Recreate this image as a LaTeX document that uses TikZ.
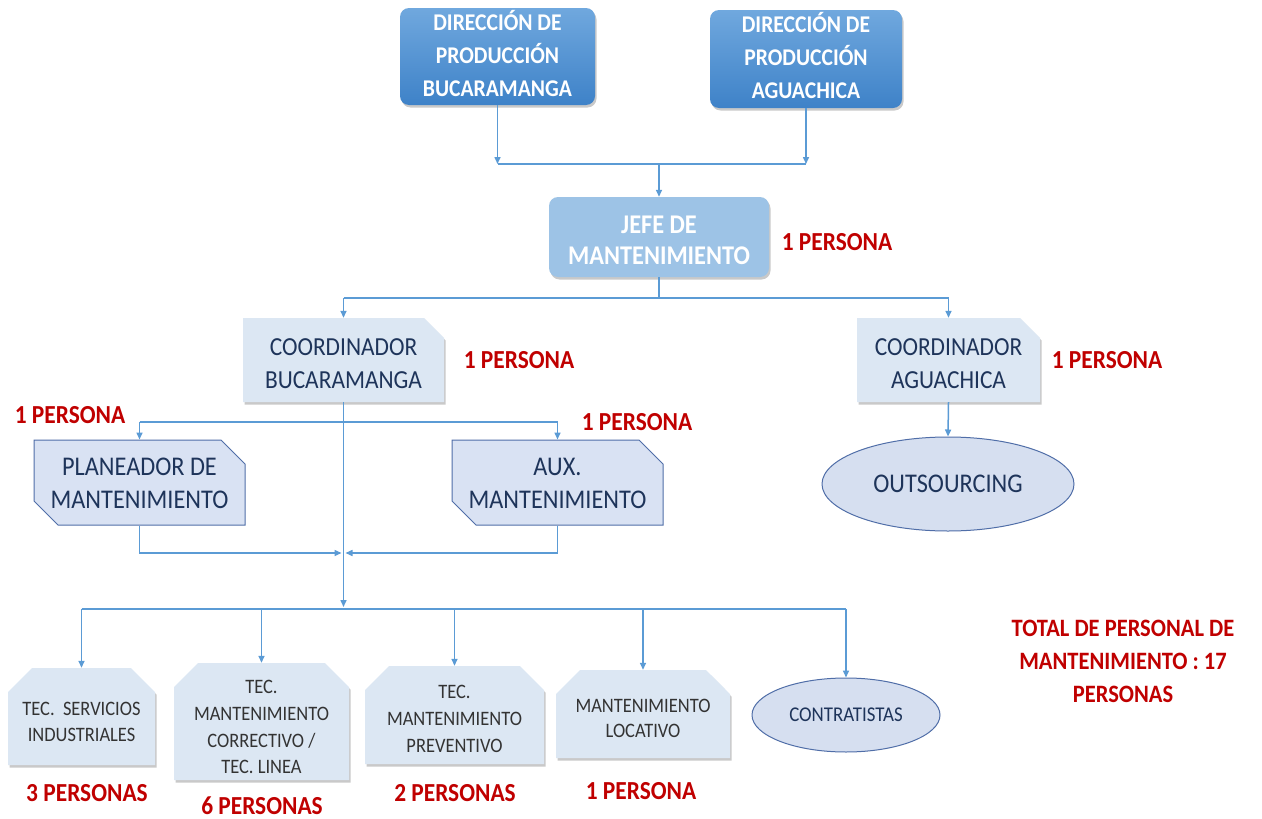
\documentclass[tikz,border=0pt]{standalone}
\usepackage{fontspec}
\setmainfont{Carlito}[FakeStretch=0.9]
\usetikzlibrary{arrows.meta,shapes.misc,shapes.geometric,shadows,calc}

\definecolor{linec}{RGB}{91,155,213}
\definecolor{dirtop}{RGB}{112,168,222}
\definecolor{dirbot}{RGB}{62,130,200}
\definecolor{jefefill}{RGB}{157,195,230}
\definecolor{boxfill}{RGB}{220,231,243}
\definecolor{planfill}{RGB}{217,226,243}
\definecolor{planedge}{RGB}{80,110,168}
\definecolor{ellfill}{RGB}{214,223,240}
\definecolor{txtdark}{RGB}{30,52,90}
\definecolor{redlab}{RGB}{192,0,0}

% centred block of lines, drawn #1 above its nominal place (negative = lower);
% its declared extent is trimmed so the chamfer does not enlarge the box
\newcommand\boxlines[2]{\raisebox{#1}[\dimexpr\height-12pt\relax][\dimexpr\depth-12pt\relax]{\begin{tabular}{@{}c@{}}#2\end{tabular}}}

\tikzset{
  softshadow/.style={drop shadow={shadow xshift=1.5pt,shadow yshift=-2.5pt,opacity=0.35,fill=black!60}},
  dirbox/.style={rounded corners=9pt, top color=dirtop, bottom color=dirbot, draw=none,
    text=white, font=\fontsize{24}{33}\selectfont\bfseries, inner sep=0pt, softshadow},
  jefebox/.style={rounded corners=9pt, fill=jefefill, draw=none,
    text=white, font=\fontsize{27}{31}\selectfont\bfseries, inner sep=0pt, softshadow},
  coordbox/.style={chamfered rectangle, chamfered rectangle corners={north east},
    chamfered rectangle xsep=10pt, chamfered rectangle ysep=10pt,
    fill=boxfill, draw=none, text=txtdark, font=\fontsize{26}{33}\selectfont,
    inner sep=0pt, softshadow},
  planbox/.style={chamfered rectangle, chamfered rectangle corners={north east,south west},
    chamfered rectangle xsep=12pt, chamfered rectangle ysep=12pt,
    fill=planfill, draw=planedge, line width=1pt, text=txtdark, font=\fontsize{27}{33}\selectfont,
    inner sep=0pt},
  tecbox/.style={chamfered rectangle, chamfered rectangle corners={north east,north west},
    chamfered rectangle xsep=12pt, chamfered rectangle ysep=12pt,
    fill=boxfill, draw=none, text=black!80, inner sep=0pt, softshadow},
  ellbox/.style={ellipse, fill=ellfill, draw=planedge, line width=1pt, inner sep=0pt, text=txtdark},
  lab/.style={text=redlab, font=\fontsize{26}{33}\selectfont\bfseries, align=center, inner sep=0pt},
  conn/.style={draw=linec, line width=1.5pt},
  arr/.style={conn, -{Triangle[length=7pt,width=6pt]}}
}

\begin{document}
\begin{tikzpicture}[x=1pt,y=-1pt]
\fill[white] (0,0) rectangle (1262,819);
\useasboundingbox (0,0) rectangle (1262,819);

% direction boxes
\node[dirbox, minimum width=195pt, minimum height=97pt] (dirB) at (497.5,56.5) {\boxlines{0pt}{DIRECCIÓN DE\\PRODUCCIÓN\\BUCARAMANGA}};
\node[dirbox, minimum width=192pt, minimum height=98pt] (dirA) at (806,59) {\boxlines{0pt}{DIRECCIÓN DE\\PRODUCCIÓN\\AGUACHICA}};

% head of maintenance
\node[jefebox, minimum width=220pt, minimum height=80pt] (jefe) at (659,237) {\boxlines{-6pt}{JEFE DE\\MANTENIMIENTO}};

% coordinators
\node[coordbox, minimum width=201pt, minimum height=84pt] (coordB) at (343.5,360) {\boxlines{-5pt}{COORDINADOR\\BUCARAMANGA}};
\node[coordbox, minimum width=183pt, minimum height=84pt] (coordA) at (948.5,360) {\boxlines{-5pt}{COORDINADOR\\AGUACHICA}};

% planner and assistant
\node[planbox, minimum width=211pt, minimum height=85pt] (plan) at (139.5,482.5) {\boxlines{-3pt}{PLANEADOR DE\\MANTENIMIENTO}};
\node[planbox, minimum width=211pt, minimum height=85pt] (aux) at (557.5,482.5) {\boxlines{-3pt}{AUX.\\MANTENIMIENTO}};

% outsourcing
\node[ellbox, minimum width=252pt, minimum height=94pt, font=\fontsize{27}{33}\selectfont] (outs) at (948,484) {OUTSOURCING};

% technicians
\node[tecbox, minimum width=147pt, minimum height=97pt, font=\fontsize{20.5}{26}\selectfont] (tserv) at (81.5,716.5) {\boxlines{-7pt}{TEC.\ \ SERVICIOS\\INDUSTRIALES}};
\node[tecbox, minimum width=175pt, minimum height=117pt, font=\fontsize{20.5}{26.7}\selectfont] (tcorr) at (261.5,721.5) {\boxlines{-7pt}{TEC.\\MANTENIMIENTO\\CORRECTIVO /\\TEC. LINEA}};
\node[tecbox, minimum width=179pt, minimum height=98pt, font=\fontsize{20.5}{27}\selectfont] (tprev) at (454.5,715) {\boxlines{-5pt}{TEC.\\MANTENIMIENTO\\PREVENTIVO}};
\node[tecbox, minimum width=174pt, minimum height=88pt, font=\fontsize{20.5}{25}\selectfont] (tloc) at (643,714) {\boxlines{-6pt}{MANTENIMIENTO\\LOCATIVO}};
\node[ellbox, minimum width=188pt, minimum height=74pt, font=\fontsize{21}{26}\selectfont] (contr) at (846,715) {CONTRATISTAS};

% staff counts
\node[lab] (lJefe) at (837,242) {1 PERSONA};
\node[lab] (lCoordB) at (519,360) {1 PERSONA};
\node[lab] (lCoordA) at (1107,360) {1 PERSONA};
\node[lab] (lPlan) at (70,415) {1 PERSONA};
\node[lab] (lAux) at (637,422) {1 PERSONA};
\node[lab] (lServ) at (87,793) {3 PERSONAS};
\node[lab] (lCorr) at (262,806) {6 PERSONAS};
\node[lab] (lPrev) at (455,793) {2 PERSONAS};
\node[lab] (lLoc) at (641,791) {1 PERSONA};
\node[lab, font=\fontsize{25}{33}\selectfont\bfseries] (total) at (1123,661) {TOTAL DE PERSONAL DE\\MANTENIMIENTO : 17\\PERSONAS};

% junction points
\coordinate (j1) at (jefe.north |- 0,164);
\coordinate (j2) at (jefe.south |- 0,298);
\coordinate (j3) at (coordB.south |- 0,422);
\coordinate (j4) at (coordB.south |- 0,553);
\coordinate (j5) at (coordB.south |- 0,609);

% directions to head
\draw[arr] (dirB.south) -- (dirB.south |- j1);
\draw[arr] (dirA.south) -- (dirA.south |- j1);
\draw[conn] (dirB.south |- j1) -- (dirA.south |- j1);
\draw[arr] (j1) -- (jefe.north);

% head to coordinators
\draw[conn] (jefe.south) -- (j2);
\draw[conn] (coordB.north |- j2) -- (coordA.north |- j2);
\draw[arr] (coordB.north |- j2) -- (coordB.north);
\draw[arr] (coordA.north |- j2) -- (coordA.north);

% Aguachica to outsourcing
\draw[arr] (coordA.south) -- (outs.north);

% Bucaramanga trunk
\draw[arr] (coordB.south) -- ($(j5)+(0,-2)$);
\draw[conn] (plan.north |- j3) -- (aux.north |- j3);
\draw[arr] (plan.north |- j3) -- (plan.north);
\draw[arr] (aux.north |- j3) -- (aux.north);
\draw[arr] (plan.south) -- (plan.south |- j4) -- ($(j4)+(-2,0)$);
\draw[arr] (aux.south) -- (aux.south |- j4) -- ($(j4)+(2,0)$);

% technicians
\draw[conn] (tserv.north |- j5) -- (contr.north |- j5);
\draw[arr] (tserv.north |- j5) -- (tserv.north);
\draw[arr] (tcorr.north |- j5) -- (tcorr.north);
\draw[arr] (tprev.north |- j5) -- (tprev.north);
\draw[arr] (tloc.north |- j5) -- (tloc.north);
\draw[arr] (contr.north |- j5) -- (contr.north);
\end{tikzpicture}
\end{document}
